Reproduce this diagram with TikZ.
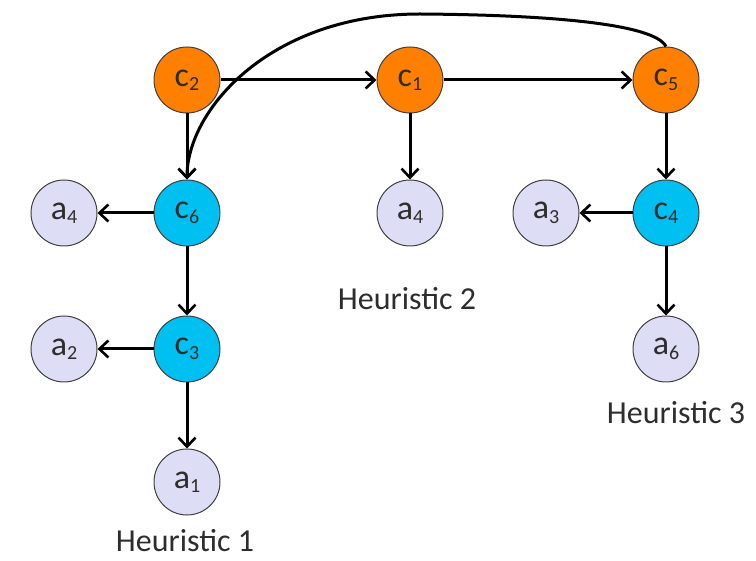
\documentclass[tikz,border=0pt]{standalone}
\usepackage{fontspec}
\setmainfont{Carlito}
\usetikzlibrary{arrows.meta}
\definecolor{corange}{RGB}{255,128,0}
\definecolor{ccyan}{RGB}{0,192,242}
\definecolor{alav}{RGB}{221,221,245}
\definecolor{txt}{RGB}{45,45,45}
\newcommand{\lowidx}[1]{{\fontsize{20}{20}\selectfont\raisebox{-0.22em}{#1}}}
\tikzset{
  vert/.style={circle, draw=black!75, line width=1pt, minimum size=66pt, inner sep=0pt,
    font=\fontsize{34}{34}\selectfont, text=txt},
  cnode/.style={vert, fill=corange},
  bnode/.style={vert, fill=ccyan},
  anode/.style={vert, fill=alav},
  edge/.style={line width=3pt, -{Straight Barb[length=9pt,width=17pt,line width=2.6pt]}},
  caption/.style={font=\fontsize{32}{32}\selectfont, text=txt, inner sep=0pt}
}
\begin{document}
\begin{tikzpicture}[x=1pt,y=-1pt]
\useasboundingbox (0,0) rectangle (756,561);
% top row of c-nodes
\node[cnode] (c2) at (187,80) {c\lowidx{2}};
\node[cnode] (c1) at (410,80) {c\lowidx{1}};
\node[cnode] (c5) at (666,80) {c\lowidx{5}};
% heuristic 1 branch
\node[bnode] (c6) at (187,213) {c\lowidx{6}};
\node[bnode] (c3) at (187,349) {c\lowidx{3}};
\node[anode] (a4l) at (64,213) {a\lowidx{4}};
\node[anode] (a2) at (64,349) {a\lowidx{2}};
\node[anode] (a1) at (187,482) {a\lowidx{1}};
% heuristic 2 branch
\node[anode] (a4m) at (410,213) {a\lowidx{4}};
% heuristic 3 branch
\node[bnode] (c4) at (666,213) {c\lowidx{4}};
\node[anode] (a3) at (546,213) {a\lowidx{3}};
\node[anode] (a6) at (666,349) {a\lowidx{6}};
% captions
\node[caption] (h1) at (185,541) {Heuristic 1};
\node[caption] (h2) at (407,299) {Heuristic 2};
\node[caption] (h3) at (676,413) {Heuristic 3};
% connectors
\draw[edge] (c2) -- (c1);
\draw[edge] (c1) -- (c5);
\draw[edge] (c2) -- (c6);
\draw[edge] (c6) -- (a4l);
\draw[edge] (c6) -- (c3);
\draw[edge] (c3) -- (a2);
\draw[edge] (c3) -- (a1);
\draw[edge] (c1) -- (a4m);
\draw[edge] (c5) -- (c4);
\draw[edge] (c4) -- (a3);
\draw[edge] (c4) -- (a6);
\draw[edge] (c5.north) .. controls (655,25) and (560,15) .. (420,14)
  .. controls (270,14) and (187,110) .. (c6.north);
\end{tikzpicture}
\end{document}
